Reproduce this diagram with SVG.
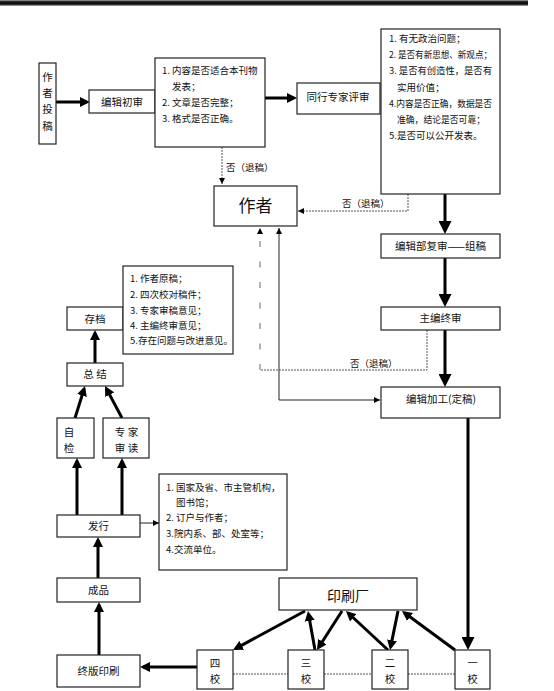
<svg xmlns="http://www.w3.org/2000/svg" width="554" height="691" viewBox="0 0 554 691">
<style>
text{font-family:"Noto Sans CJK SC","Noto Sans",sans-serif;fill:#111}
.lb{font-size:10.5px;text-anchor:middle}
.ls{font-size:9.5px}
.box{fill:#fff;stroke:#222;stroke-width:1.2}
.thick{stroke:#000;stroke-width:3;fill:none}
.thin{stroke:#222;stroke-width:1;fill:none}
.dot{stroke:#555;stroke-width:1;fill:none;stroke-dasharray:2 1}
.sparse{stroke:#666;stroke-width:1;fill:none;stroke-dasharray:6 14.5}
</style>
<defs>
<linearGradient id="bar" x1="0" y1="0" x2="0" y2="1">
<stop offset="0" stop-color="#aaa"/><stop offset="0.3" stop-color="#111"/><stop offset="0.7" stop-color="#111"/><stop offset="1" stop-color="#bbb"/>
</linearGradient>
<marker id="big" viewBox="0 0 10 10" refX="7" refY="5" markerWidth="13" markerHeight="13" markerUnits="userSpaceOnUse" orient="auto"><path d="M0,0 L10,5 L0,10 z" fill="#000"/></marker>
<marker id="mid" viewBox="0 0 10 10" refX="7" refY="5" markerWidth="10" markerHeight="10" markerUnits="userSpaceOnUse" orient="auto"><path d="M0,0 L10,5 L0,10 z" fill="#000"/></marker>
<marker id="sm" viewBox="0 0 10 10" refX="10" refY="5" markerWidth="6" markerHeight="6" markerUnits="userSpaceOnUse" orient="auto-start-reverse"><path d="M0,0 L10,5 L0,10 z" fill="#000"/></marker>
</defs>
<rect x="0" y="0" width="528" height="6" fill="url(#bar)"/>

<g id="connectors">
<line class="thick" x1="56" y1="102" x2="87" y2="102" marker-end="url(#mid)"/>
<line class="thick" x1="265" y1="98" x2="294" y2="98" marker-end="url(#mid)"/>
<line class="thick" x1="445" y1="194" x2="445" y2="230.1" marker-end="url(#big)"/>
<line class="thick" x1="445" y1="258" x2="445" y2="303.1" marker-end="url(#big)"/>
<line class="thick" x1="445" y1="330" x2="445" y2="383.1" marker-end="url(#big)"/>
<line class="thick" x1="468" y1="418" x2="468" y2="646.1" marker-end="url(#big)"/>
<line class="thick" x1="95" y1="363" x2="95" y2="333" marker-end="url(#mid)"/>
<line class="thick" x1="75" y1="418" x2="84.1" y2="388.9" marker-end="url(#mid)"/>
<line class="thick" x1="122" y1="418" x2="106.4" y2="388.6" marker-end="url(#mid)"/>
<line class="thick" x1="77" y1="515" x2="77" y2="461" marker-end="url(#mid)"/>
<line class="thick" x1="122" y1="515" x2="122" y2="461" marker-end="url(#mid)"/>
<line class="thick" x1="98" y1="578" x2="98" y2="540" marker-end="url(#mid)"/>
<line class="thick" x1="99" y1="655" x2="99" y2="605" marker-end="url(#mid)"/>
<line class="thick" x1="197" y1="667" x2="143" y2="667" marker-end="url(#mid)"/>
<line class="thick" x1="305" y1="611" x2="235.6" y2="648.6" marker-end="url(#mid)"/>
<line class="thick" x1="315" y1="650" x2="308.5" y2="614" marker-end="url(#mid)"/>
<line class="thick" x1="342" y1="611" x2="318.6" y2="647.5" marker-end="url(#mid)"/>
<line class="thick" x1="388" y1="650" x2="348.2" y2="613" marker-end="url(#mid)"/>
<line class="thick" x1="398" y1="611" x2="390.6" y2="647.1" marker-end="url(#mid)"/>
<line class="thick" x1="455" y1="650" x2="404.4" y2="612.8" marker-end="url(#mid)"/>
<line class="thin" x1="140" y1="523" x2="159" y2="523" marker-end="url(#sm)"/>
<path class="thin" d="M279,228 L279,400 L380,400" marker-start="url(#sm)" marker-end="url(#sm)"/>
<line class="dot" x1="222" y1="147" x2="222" y2="184" marker-end="url(#sm)"/>
<path class="dot" d="M408,194 L408,211 L298,211" marker-end="url(#sm)"/>
<path class="dot" d="M427,330 L427,370 L260,370"/>
<line class="sparse" x1="260" y1="370" x2="260" y2="228" marker-end="url(#sm)"/>
<line class="dot" x1="233" y1="674" x2="288" y2="674"/>
<line class="dot" x1="324" y1="674" x2="372" y2="674"/>
<line class="dot" x1="408" y1="674" x2="455" y2="674"/>
<text class="ls" x="226" y="170.5">否（退稿）</text>
<text class="ls" x="342" y="206.5">否（退稿）</text>
<text class="ls" x="350" y="366.5">否（退稿）</text>
</g>

<g id="n-tougao"><rect class="box" x="39" y="63" width="17" height="81"/>
<text class="lb" x="47.5" y="81">作</text><text class="lb" x="47.5" y="97">者</text><text class="lb" x="47.5" y="113">投</text><text class="lb" x="47.5" y="130">稿</text></g>

<g id="n-chushen"><rect class="box" x="89" y="90" width="66" height="23"/><text class="lb" x="122" y="105.5">编辑初审</text></g>

<g id="n-check1"><rect class="box" x="155" y="58" width="110" height="89"/>
<text class="ls" x="162" y="74.3">1. 内容是否适合本刊物</text>
<text class="ls" x="172" y="90.3">发表；</text>
<text class="ls" x="162" y="106.3">2. 文章是否完整；</text>
<text class="ls" x="162" y="122.3">3. 格式是否正确。</text></g>

<g id="n-peer"><rect class="box" x="297" y="83" width="83" height="31"/><text class="lb" x="338" y="100.5">同行专家评审</text></g>

<g id="n-check2"><rect class="box" x="381" y="29" width="119" height="165"/>
<text class="ls" x="389" y="41.7">1. 有无政治问题；</text>
<text class="ls" x="389" y="57.7" textLength="103" lengthAdjust="spacingAndGlyphs">2. 是否有新思想、新观点；</text>
<text class="ls" x="389" y="74.2" textLength="103" lengthAdjust="spacingAndGlyphs">3. 是否有创造性，是否有</text>
<text class="ls" x="397" y="90.7">实用价值；</text>
<text class="ls" x="389" y="106.7" textLength="103" lengthAdjust="spacingAndGlyphs">4.内容是否正确，数据是否</text>
<text class="ls" x="397" y="122.7" textLength="88" lengthAdjust="spacingAndGlyphs">准确，结论是否可靠；</text>
<text class="ls" x="389" y="138.7">5.是否可以公开发表。</text></g>

<g id="n-author"><rect class="box" x="214" y="186" width="83" height="40"/><text class="lb" x="255.5" y="212" style="font-size:17px">作者</text></g>

<g id="n-fushen"><rect class="box" x="381" y="234" width="119" height="24"/><text class="lb" x="440.5" y="249.7">编辑部复审——组稿</text></g>

<g id="n-zhongshen"><rect class="box" x="381" y="307" width="119" height="23"/><text class="lb" x="440.5" y="322.2">主编终审</text></g>

<g id="n-jiagong"><rect class="box" x="381" y="387" width="119" height="31"/><text class="lb" x="441" y="402.7">编辑加工(定稿)</text></g>

<g id="n-cundang"><rect class="box" x="67" y="307" width="56" height="23"/><text class="lb" x="95" y="322.7">存档</text></g>

<g id="n-list3"><rect class="box" x="123" y="266" width="110" height="88"/>
<text class="ls" x="130" y="282.3">1. 作者原稿；</text>
<text class="ls" x="130" y="297.8">2. 四次校对稿件；</text>
<text class="ls" x="130" y="314.3">3. 专家审稿意见；</text>
<text class="ls" x="130" y="329.3">4. 主编终审意见；</text>
<text class="ls" x="130" y="344.3">5.存在问题与改进意见。</text></g>

<g id="n-zongjie"><rect class="box" x="67" y="363" width="56" height="23"/><text class="lb" x="95" y="378.2">总 结</text></g>

<g id="n-zijian"><rect class="box" x="57" y="418" width="37" height="40"/>
<text class="lb" x="69" y="435.7">自</text><text class="lb" x="69" y="451.7">检</text></g>

<g id="n-zhuanjia"><rect class="box" x="103" y="418" width="46" height="40"/>
<text class="lb" x="126.5" y="435.7">专 家</text><text class="lb" x="126.5" y="451.7">审 读</text></g>

<g id="n-faxing"><rect class="box" x="57" y="515" width="83" height="22"/><text class="lb" x="98.5" y="529.7">发行</text></g>

<g id="n-list4"><rect class="box" x="159" y="474" width="128" height="96"/>
<text class="ls" x="166" y="491.3">1. 国家及省、市主管机构，</text>
<text class="ls" x="176" y="506.3">图书馆；</text>
<text class="ls" x="166" y="521.3">2. 订户与作者；</text>
<text class="ls" x="166" y="537.3">3.院内系、部、处室等；</text>
<text class="ls" x="166" y="553.3">4.交流单位。</text></g>

<g id="n-chengpin"><rect class="box" x="57" y="578" width="83" height="24"/><text class="lb" x="98.5" y="593.7">成品</text></g>

<g id="n-zhongban"><rect class="box" x="57" y="655" width="83" height="32"/><text class="lb" x="98.5" y="674.7">终版印刷</text></g>

<g id="n-yinshua"><rect class="box" x="279" y="578" width="138" height="32"/><text class="lb" x="348" y="601" style="font-size:14px">印刷厂</text></g>

<g id="n-sijiao"><rect class="box" x="197" y="650" width="36" height="39"/>
<text class="lb" x="215" y="666.7">四</text><text class="lb" x="215" y="682.7">校</text></g>
<g id="n-sanjiao"><rect class="box" x="288" y="650" width="36" height="39"/>
<text class="lb" x="306" y="666.7">三</text><text class="lb" x="306" y="682.7">校</text></g>
<g id="n-erjiao"><rect class="box" x="372" y="650" width="36" height="39"/>
<text class="lb" x="390" y="666.7">二</text><text class="lb" x="390" y="682.7">校</text></g>
<g id="n-yijiao"><rect class="box" x="455" y="650" width="35" height="39"/>
<text class="lb" x="472.5" y="666.7">一</text><text class="lb" x="472.5" y="682.7">校</text></g>
</svg>
